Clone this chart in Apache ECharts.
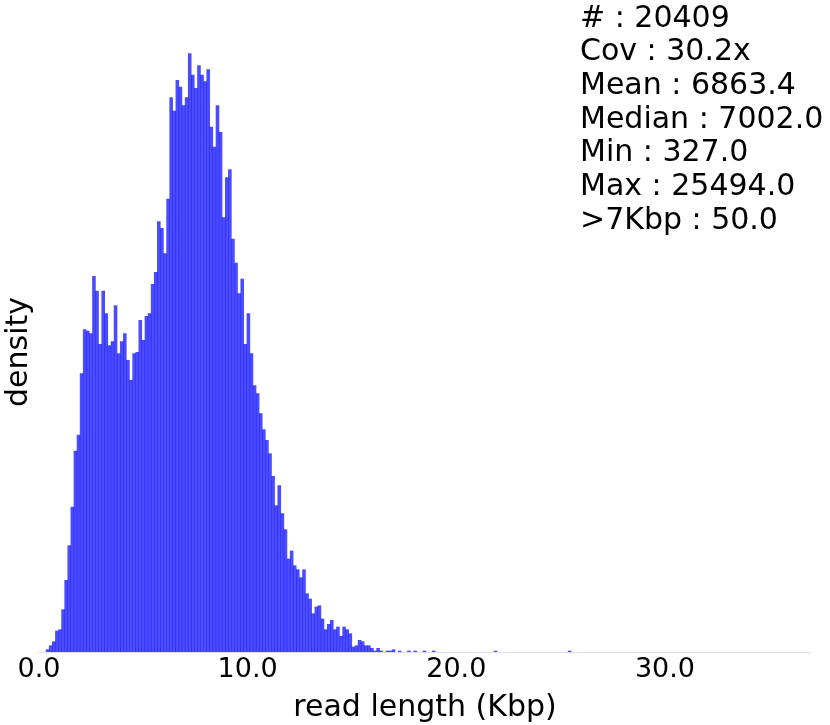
<!DOCTYPE html>
<html>
<head>
<meta charset="utf-8">
<script src="https://cdn.jsdelivr.net/npm/echarts@6/dist/echarts.min.js"></script>
<style>
  html, body { margin: 0; padding: 0; background: #fff; }
  #chart { width: 830px; height: 725px; }
</style>
</head>
<body>
<div id="chart"></div>
<script>
// histogram of read lengths (Kbp), 170 equal bins from min to max read length
const binMin = 0.327;
const binMax = 25.494;
const binCounts = [
  2, 5, 8, 16, 17, 32, 54, 80, 109, 151, 163, 209, 242, 241, 239, 282, 271, 231, 271, 254,
  230, 233, 260, 224, 233, 239, 219, 204, 224, 225, 249, 234, 252, 254, 276, 285,
  323, 318, 299, 340, 416, 406, 429, 424, 410, 416, 449, 433, 423, 440, 433, 428, 437, 394,
  379, 410, 390, 326, 356, 362, 310, 292, 269, 280,
  231, 254, 224, 200, 194, 179, 167, 159, 149, 132, 110, 125, 104, 92, 70, 76, 65, 62, 56, 62,
  44, 40, 29, 34, 35, 25, 17, 21, 24, 17, 19, 12, 19, 17, 14, 4, 5, 9,
  8, 5, 5, 3, 1, 3, 1, 0, 1, 1, 2, 0, 1, 0, 0, 1, 0, 1, 0, 0, 1, 0, 0, 1,
  0, 0, 0, 0, 0, 0, 0, 0, 0, 0, 0, 0, 0, 0, 0, 0, 0, 0, 0, 1,
  0, 0, 0, 0, 0, 0, 0, 0, 0, 0, 0, 0, 0, 0, 0, 0, 0, 0, 0, 0, 0, 0, 0, 1
];

const statLabels = ['#', 'Cov', 'Mean', 'Median', 'Min', 'Max', '>7Kbp'];
const statValues = ['20409', '30.2x', '6863.4', '7002.0', '327.0', '25494.0', '50.0'];

const xTicks = [0, 10, 20, 30];

const FONT = 'DejaVu Sans';
const barColor = 'rgba(0,0,255,0.7)';

const binWidth = (binMax - binMin) / binCounts.length;
const histData = binCounts.map((c, i) => [binMin + i * binWidth, binMin + (i + 1) * binWidth, c]);

const option = {
  animation: false,
  title: {
    text: statLabels.map((l, i) => l + ' : ' + statValues[i]).join('\n'),
    left: 580,
    top: 2,
    padding: 0,
    textStyle: {
      fontFamily: FONT,
      fontSize: 30,
      fontWeight: 'normal',
      color: '#000',
      lineHeight: 33.7
    }
  },
  grid: {
    left: 39,
    right: 19,
    top: 52,
    bottom: 73,
    outerBoundsMode: 'none'
  },
  xAxis: {
    type: 'value',
    min: 0,
    max: 37,
    interval: 10,
    name: 'read length (Kbp)',
    nameLocation: 'middle',
    nameGap: 41,
    nameTextStyle: { fontFamily: FONT, fontSize: 30, color: '#000' },
    axisLine: { show: true, lineStyle: { color: '#dcdcf8', width: 1 } },
    axisTick: { show: false },
    splitLine: { show: false },
    axisLabel: {
      fontFamily: FONT,
      fontSize: 27,
      color: '#000',
      margin: 4,
      showMaxLabel: false,
      formatter: v => xTicks.includes(v) ? v.toFixed(1) : ''
    }
  },
  yAxis: {
    type: 'value',
    min: 0,
    max: 450,
    name: 'density',
    nameLocation: 'middle',
    nameRotate: 90,
    nameGap: 5,
    nameTextStyle: { fontFamily: FONT, fontSize: 30, color: '#000' },
    axisLine: { show: false },
    axisTick: { show: false },
    axisLabel: { show: false },
    splitLine: { show: false }
  },
  series: [{
    type: 'custom',
    data: histData,
    encode: { x: [0, 1], y: 2 },
    renderItem: function (params, api) {
      const h = api.value(2);
      if (!h) return null;
      const p0 = api.coord([api.value(0), h]);
      const p1 = api.coord([api.value(1), 0]);
      // slight overlap so neighbouring edges read as thin darker seams
      return {
        type: 'rect',
        shape: { x: p0[0], y: p0[1], width: p1[0] - p0[0] + 0.5, height: p1[1] - p0[1] },
        style: { fill: barColor }
      };
    }
  }]
};

const myChart = echarts.init(document.getElementById('chart'));
myChart.setOption(option);
</script>
</body>
</html>
